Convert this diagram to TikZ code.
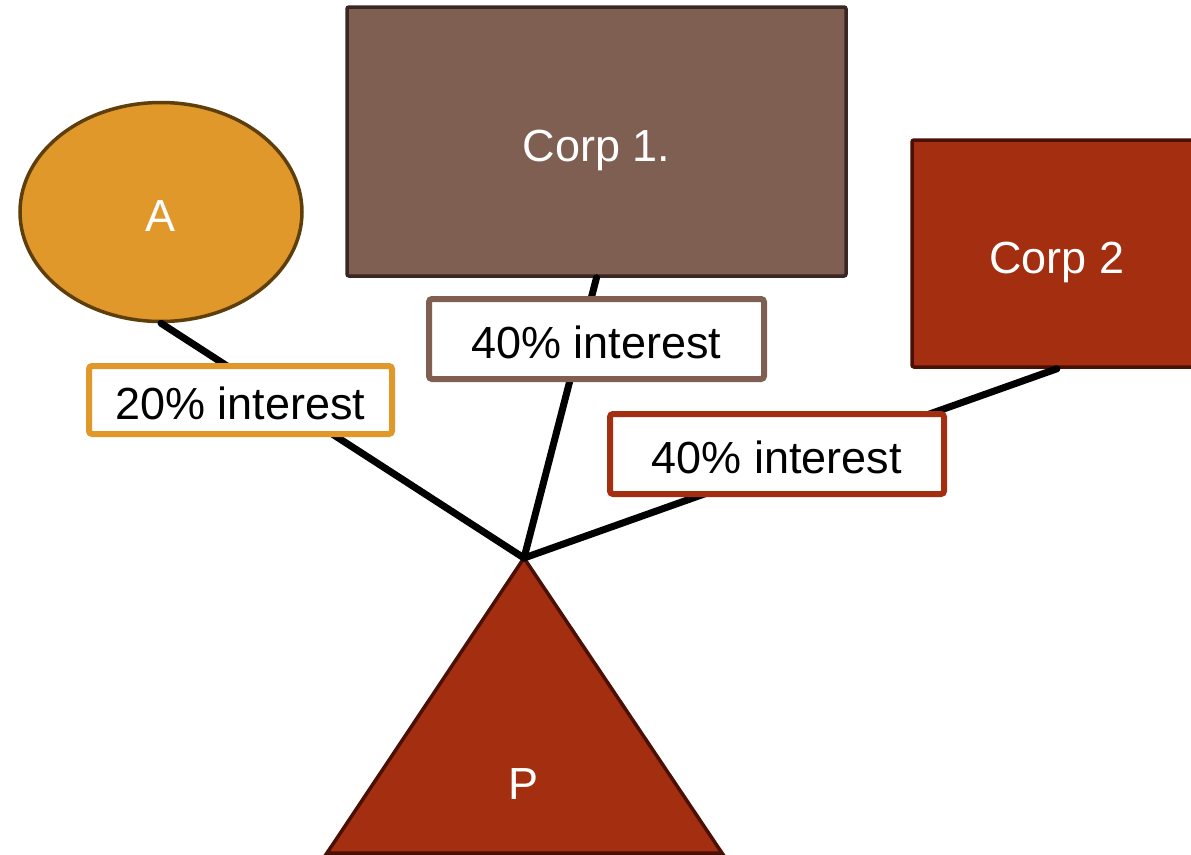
\documentclass[tikz,border=0pt]{standalone}
\usepackage{fontspec}
\setmainfont{Liberation Sans}
\usepackage{tikz}
\usetikzlibrary{shapes.geometric}
\definecolor{ochre}{RGB}{224, 152, 42}
\definecolor{darkochre}{RGB}{94, 63, 12}
\definecolor{mocha}{RGB}{127, 95, 82}
\definecolor{darkmocha}{RGB}{58, 38, 34}
\definecolor{rust}{RGB}{163, 46, 16}
\definecolor{darkrust}{RGB}{74, 16, 5}

\tikzset{
    entity/.style={text=white, line width=3.5pt, inner sep=0pt, text height=39pt, text depth=0pt, font=\fontsize{45}{54}\selectfont},
    share/.style={fill=white, line width=6pt, rounded corners=3pt, inner sep=0pt, text height=39pt, text depth=0pt, font=\fontsize{45}{54}\selectfont},
    link/.style={line width=7pt, line cap=round}
}

\begin{document}
\begin{tikzpicture}[x=1pt, y=-1pt]
    \clip (0,0) rectangle (1191,854);
    % owners
    \node[entity, ellipse, fill=ochre, draw=darkochre, minimum width=282, minimum height=219] (A) at (161,212) {A};
    \node[entity, rectangle, fill=mocha, draw=darkmocha, rounded corners=2pt, minimum width=499, minimum height=269] (corpone) at (596.5,141.5) {Corp 1.};
    \node[entity, rectangle, fill=rust, draw=darkrust, rounded corners=2pt, minimum width=290, minimum height=227] (corptwo) at (1057,253.5) {Corp 2};
    % owned
    \draw[fill=rust, draw=darkrust, line width=3.5pt] (524,558) -- (722,853) -- (327,853) -- cycle;
    \coordinate (apex) at (524,558);
    \node[entity] (P) at (524,780) {P};
    \draw[link] (A.south) -- (apex);
    \draw[link] (corpone.south) -- (apex);
    \draw[link] (corptwo.south) -- (apex);
    % interests
    \node[share, draw=ochre, minimum width=303, minimum height=68] (shareA) at (240.5,400) {20\% interest};
    \node[share, draw=mocha, minimum width=335, minimum height=80] (shareone) at (596.5,339) {40\% interest};
    \node[share, draw=rust, minimum width=334, minimum height=80] (sharetwo) at (777,454) {40\% interest};
\end{tikzpicture}
\end{document}
